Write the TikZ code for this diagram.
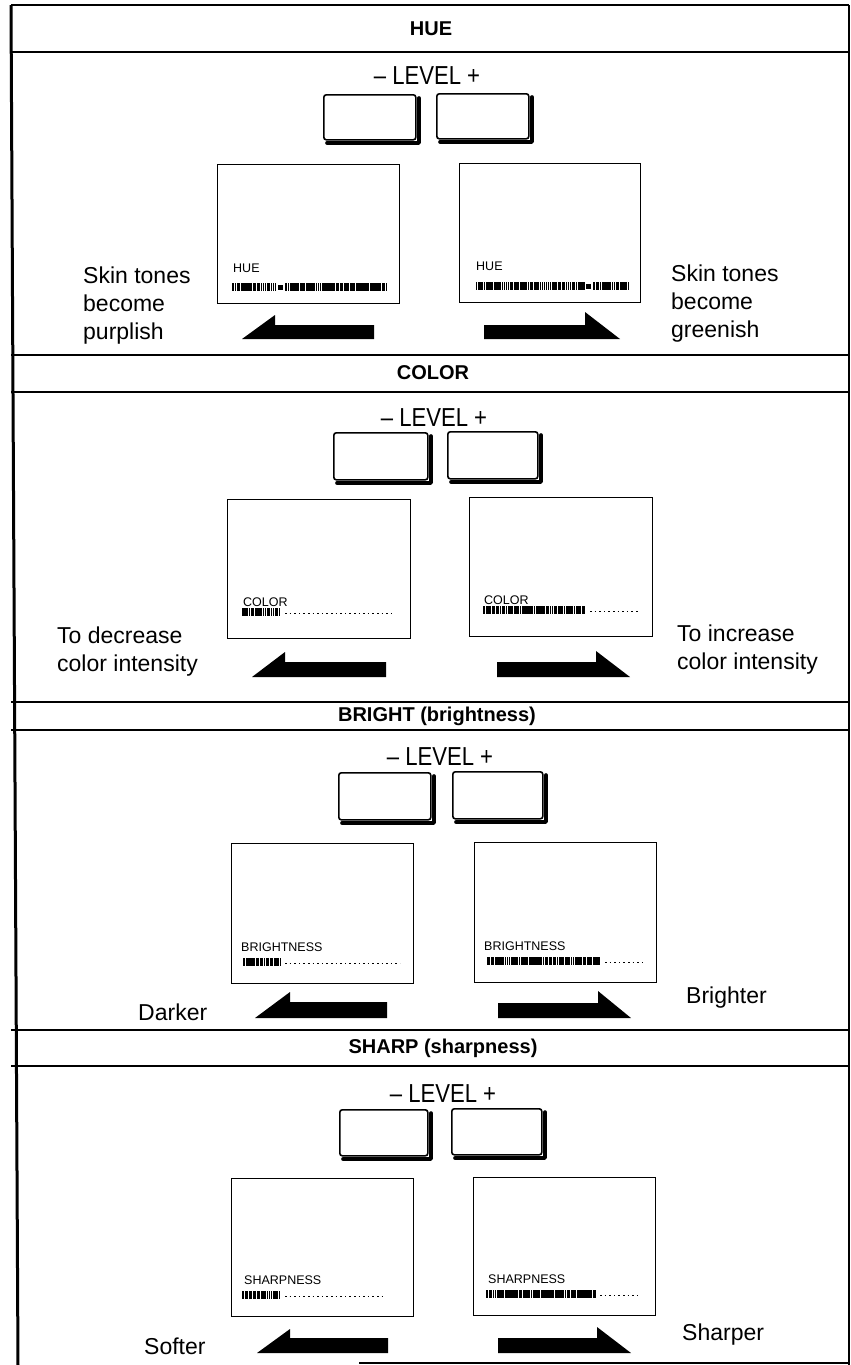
\documentclass[tikz,border=0pt]{standalone}
\usepackage{fontspec}
\setmainfont{Liberation Sans}
\usetikzlibrary{calc}
\newcommand\ticks[3]{%
  \pgfmathtruncatemacro\nt{(#2-#1)/2.0}%
  \foreach \k in {0,...,\nt}{%
    \pgfmathsetmacro\xx{#1+\k*2.0}%
    \pgfmathsetmacro\lw{0.6+1.0*rnd}%
    \draw[line width=\lw pt] (\xx,#3) -- (\xx,#3+8);
  }}
\newcommand\osddots[3]{\draw[line width=0.9pt, dash pattern=on 1.6pt off 3pt] (#1,#3) -- (#2,#3);}
\newcommand\btnshadow[1]{\draw[line width=3.6pt, line join=round, line cap=round]
  ([xshift=2.4pt,yshift=-4pt]#1.north east) -- ([xshift=2.4pt,yshift=-2.4pt]#1.south east) -- ([xshift=4pt,yshift=-2.4pt]#1.south west);}
\newcommand\larrow[6]{\fill (#1,#6) -- (#2,#4) -- (#2,#5) -- (#3,#5) -- (#3,#6) -- cycle;}
\newcommand\rarrow[6]{\fill (#1,#5) -- (#2,#5) -- (#2,#4) -- (#3,#6) -- (#1,#6) -- cycle;}
\begin{document}
\begin{tikzpicture}[x=1pt,y=-1pt,
  frameline/.style={line width=2.4pt},
  sepline/.style={line width=1.4pt},
  hdr/.style={font=\bfseries\fontsize{20}{24}\selectfont, inner sep=0pt},
  lvl/.style={font=\fontsize{26}{30}\selectfont, inner sep=0pt},
  btn/.style={draw, line width=1.6pt, rounded corners=2.5pt, minimum width=90pt, minimum height=46pt, anchor=north west, inner sep=0pt},
  scr/.style={draw, line width=1.1pt, anchor=north west, inner sep=0pt},
  osd/.style={font=\fontsize{12.5}{14}\selectfont, inner sep=0pt, anchor=base west},
  lbl/.style={font=\fontsize{23}{28}\selectfont, inner sep=0pt, align=left, anchor=north west},
  lblone/.style={font=\fontsize{23}{28}\selectfont, inner sep=0pt, anchor=base west}
]
\pgfmathsetseed{7}
\useasboundingbox (0,0) rectangle (851,1365);
% frame
\draw[frameline] (11,5) -- (849,5);
\draw[line width=3pt] (11,5) -- (18,1365);
\draw[line width=2pt] (849,5) -- (849,1365);
\draw[sepline] (359,1363) -- (849,1363);
% ===== HUE =====
\node[hdr] (hhue) at (431,29) {HUE};
\draw[sepline] (11,52) -- (849,52);
\node[lvl] (hlvl) at (427,76) {\scalebox{0.85}[1]{– LEVEL +}};
\node[btn, minimum width=92pt, minimum height=45pt] (hbm) at (323,94) {};
\node[btn, minimum width=92pt, minimum height=45pt] (hbp) at (436,93) {};
\btnshadow{hbm}\btnshadow{hbp}
\node[scr, minimum width=182pt, minimum height=139pt] (hsl) at (217,164) {};
\node[scr, minimum width=181pt, minimum height=139pt] (hsr) at (459,163) {};
\node[osd] (hol) at (233,272) {HUE};
\ticks{233}{276}{283}\fill (278,285) rectangle (283,290);\ticks{286}{386}{283}
\node[osd] (hor) at (476,270) {HUE};
\ticks{476}{584}{282}\fill (586,284) rectangle (591,289);\ticks{594}{628}{282}
\larrow{242}{275}{374}{315}{325}{339}
\rarrow{484}{585}{620}{312}{325}{339}
\node[lbl] (htl) at (83,267) {Skin tones\\become\\purplish};
\node[lbl] (htr) at (671,265) {Skin tones\\become\\greenish};
\draw[sepline] (11,355) -- (849,355);
% ===== COLOR =====
\node[hdr] (hcol) at (433,373) {COLOR};
\draw[sepline] (11,392) -- (849,392);
\node[lvl] (clvl) at (434,418) {\scalebox{0.85}[1]{– LEVEL +}};
\node[btn, minimum width=94pt, minimum height=47pt] (cbm) at (333,432) {};
\node[btn, minimum width=90pt, minimum height=47pt] (cbp) at (447,431) {};
\btnshadow{cbm}\btnshadow{cbp}
\node[scr, minimum width=183pt, minimum height=139pt] (csl) at (227,499) {};
\node[scr, minimum width=183pt, minimum height=139pt] (csr) at (469,497) {};
\node[osd] (col) at (243,606) {COLOR};
\ticks{243}{280}{608}\osddots{285}{395}{613}
\node[osd] (cor) at (484,604) {COLOR};
\ticks{484}{585}{606}\osddots{590}{640}{611}
\larrow{252}{285}{386}{652}{662}{677}
\rarrow{497}{596}{630}{651}{662}{677}
\node[lbl] (ctl) at (57,627) {To decrease\\color intensity};
\node[lbl] (ctr) at (677,625) {To increase\\color intensity};
\draw[sepline] (11,702) -- (849,702);
% ===== BRIGHT =====
\node[hdr] (hbr) at (437,716) {BRIGHT (brightness)};
\draw[sepline] (11,730) -- (849,730);
\node[lvl] (blvl) at (440,757) {\scalebox{0.85}[1]{– LEVEL +}};
\node[btn, minimum width=92pt, minimum height=47pt] (bbm) at (338,772) {};
\node[btn, minimum width=90pt, minimum height=47pt] (bbp) at (452,771) {};
\btnshadow{bbm}\btnshadow{bbp}
\node[scr, minimum width=182pt, minimum height=140pt] (bsl) at (231,843) {};
\node[scr, minimum width=182pt, minimum height=140pt] (bsr) at (474,842) {};
\node[osd] (bol) at (241,951) {BRIGHTNESS};
\ticks{244}{280}{958}\osddots{285}{400}{963}
\node[osd] (bor) at (484,950) {BRIGHTNESS};
\ticks{487}{600}{957}\osddots{605}{645}{962}
\larrow{255}{290}{387}{992}{1002}{1018}
\rarrow{498}{598}{631}{991}{1003}{1018}
\node[lblone] (btl) at (138,1020) {Darker};
\node[lblone] (btr) at (686,1003) {Brighter};
\draw[sepline] (11,1030) -- (849,1030);
% ===== SHARP =====
\node[hdr] (hsh) at (443,1048) {SHARP (sharpness)};
\draw[sepline] (11,1066) -- (849,1066);
\node[lvl] (slvl) at (443,1094) {\scalebox{0.85}[1]{– LEVEL +}};
\node[btn, minimum width=88pt, minimum height=46pt] (sbm) at (339,1109) {};
\node[btn, minimum width=90pt, minimum height=46pt] (sbp) at (451,1108) {};
\btnshadow{sbm}\btnshadow{sbp}
\node[scr, minimum width=182pt, minimum height=138pt] (ssl) at (231,1178) {};
\node[scr, minimum width=182pt, minimum height=138pt] (ssr) at (473,1177) {};
\node[osd] (sol) at (244,1284) {SHARPNESS};
\ticks{243}{280}{1291}\osddots{285}{385}{1296}
\node[osd] (sor) at (488,1283) {SHARPNESS};
\ticks{487}{595}{1290}\osddots{600}{640}{1295}
\larrow{257}{290}{388}{1329}{1338}{1353}
\rarrow{498}{597}{631}{1327}{1338}{1353}
\node[lblone] (stl) at (144,1354) {Softer};
\node[lblone] (str) at (682,1340) {Sharper};
\end{tikzpicture}
\end{document}
